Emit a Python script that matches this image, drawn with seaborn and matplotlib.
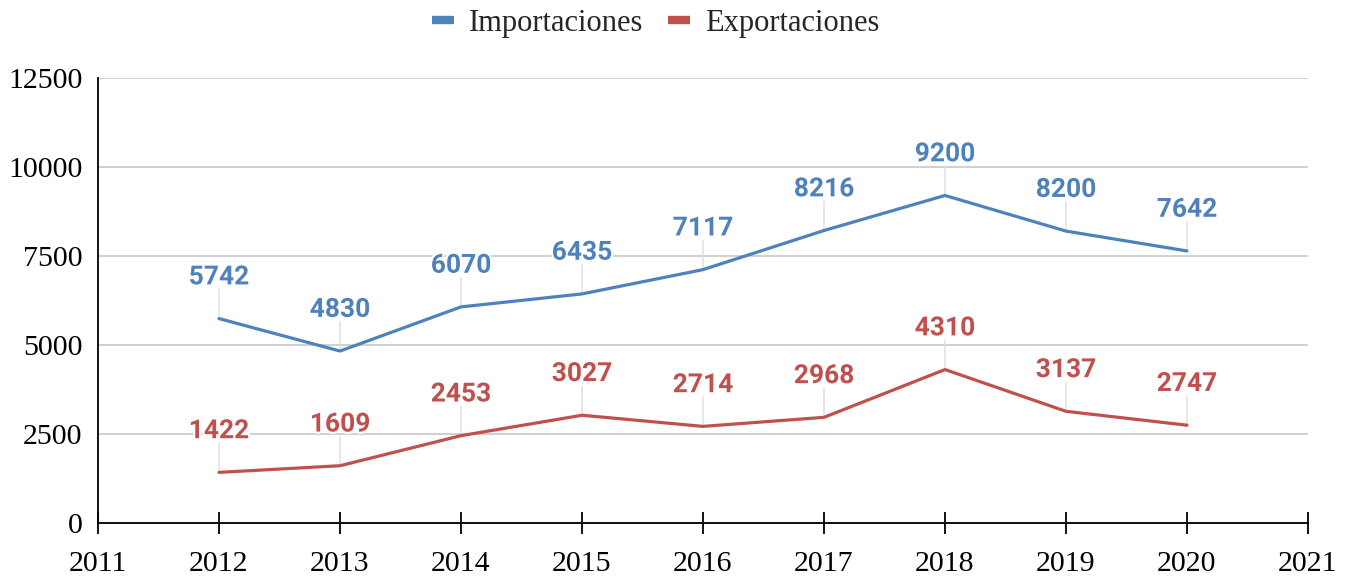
import matplotlib
matplotlib.use("Agg")
import matplotlib.pyplot as plt
import matplotlib.patheffects as pe
from matplotlib.lines import Line2D
import seaborn as sns
import pandas as pd

years = [2012, 2013, 2014, 2015, 2016, 2017, 2018, 2019, 2020]
importaciones = [5742, 4830, 6070, 6435, 7117, 8216, 9200, 8200, 7642]
exportaciones = [1422, 1609, 2453, 3027, 2714, 2968, 4310, 3137, 2747]
series_names = ["Importaciones", "Exportaciones"]
x_ticks = list(range(2011, 2022))
y_ticks = [0, 2500, 5000, 7500, 10000, 12500]

colors = {"Importaciones": "#4f81bd", "Exportaciones": "#c0504d"}

df = pd.DataFrame({
    "year": years * 2,
    "value": importaciones + exportaciones,
    "serie": [series_names[0]] * len(years) + [series_names[1]] * len(years),
})

sns.set_theme(style="white")
plt.rcParams["font.family"] = ["Liberation Serif", "DejaVu Serif"]

fig = plt.figure(figsize=(13.55, 5.81), dpi=100)
ax = fig.add_axes([98 / 1355, 1 - 523 / 581, (1308 - 98) / 1355, (523 - 78) / 581])

ax.set_xlim(2011, 2021)
ax.set_ylim(0, 12500)
ax.set_yticks(y_ticks)
ax.set_xticks(x_ticks)
ax.yaxis.grid(True, color="#d0d0d0", linewidth=1.4)
ax.set_axisbelow(True)

sns.lineplot(data=df, x="year", y="value", hue="serie", palette=colors,
             linewidth=2.3, ax=ax, legend=False, zorder=3)

for name, vals in zip(series_names, [importaciones, exportaciones]):
    for x, y in zip(years, vals):
        ax.annotate("", xy=(x, y), xytext=(0, 21), textcoords="offset points",
                    xycoords="data",
                    arrowprops=dict(arrowstyle="-", color="#dddddd", lw=1.0,
                                    shrinkA=0, shrinkB=0), zorder=2)
        ax.annotate(str(y), xy=(x, y), xytext=(0, 21), textcoords="offset points",
                    ha="center", va="bottom", fontsize=19, fontweight="bold",
                    family="Roboto", color=colors[name], zorder=4,
                    path_effects=[pe.withStroke(linewidth=3, foreground="white")])

for s in ["top", "right"]:
    ax.spines[s].set_visible(False)
for s in ["left", "bottom"]:
    ax.spines[s].set_color("black")
    ax.spines[s].set_linewidth(1.3)

ax.tick_params(axis="x", direction="inout", length=16, width=1.3, color="black",
               labelsize=21.5, pad=12, bottom=True)
ax.tick_params(axis="y", length=0, labelsize=21.5, pad=11)
ax.set_xlabel("")
ax.set_ylabel("")
for lbl in ax.get_xticklabels() + ax.get_yticklabels():
    lbl.set_color("black")

handles = [Line2D([0], [0], color=colors[n], lw=6, solid_capstyle="butt") for n in series_names]
fig.legend(handles, series_names, loc="center", bbox_to_anchor=(0.484, 0.960),
           ncol=2, frameon=False, fontsize=22, handlelength=0.72,
           handletextpad=0.5, columnspacing=0.8)

fig.savefig("out.png", dpi=100)
